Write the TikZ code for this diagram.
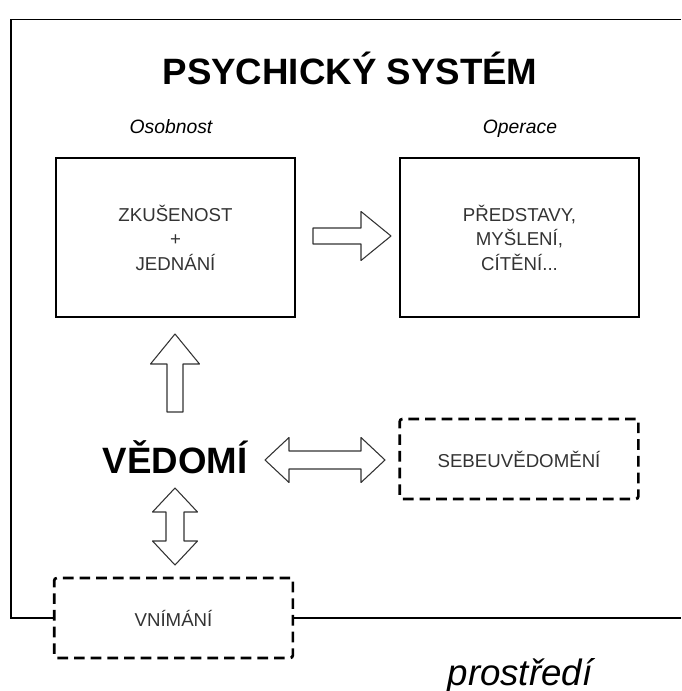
\documentclass[tikz,border=0pt]{standalone}
\usepackage{fontspec}
\setmainfont{Liberation Sans}
\definecolor{txtgray}{HTML}{333333}
\begin{document}
\begin{tikzpicture}[x=0.75pt,y=-0.75pt,
	box/.style={draw,line width=1pt,minimum width=179.25pt,minimum height=119.25pt,align=center,font=\fontsize{14}{18.4}\selectfont,text=txtgray},
	dbox/.style={draw,line width=2pt,dash pattern=on 8pt off 4.5pt,rounded corners=2pt,minimum width=179pt,minimum height=60pt,font=\fontsize{14}{17}\selectfont,text=txtgray},
	arrline/.style={draw=txtgray,fill=white,line width=0.8pt,line join=round},
	sarr/.pic={\path[arrline] (0,-8) -- (48,-8) -- (48,-24.5) -- (78,0) -- (48,24.5) -- (48,8) -- (0,8) -- cycle;},
	darr/.pic={\path[arrline] (0,0) -- (24,-22.5) -- (24,-9) -- (#1-24,-9) -- (#1-24,-22.5) -- (#1,0) -- (#1-24,22.5) -- (#1-24,9) -- (24,9) -- (24,22.5) -- cycle;},
	caption/.style={font=\fontsize{14.5}{17}\selectfont\itshape,anchor=base}]
	\useasboundingbox (0,0) rectangle (681,691);
	\node[font=\fontsize{27.5}{30}\selectfont\bfseries,anchor=base] (title) at (350,85) {PSYCHICKÝ SYSTÉM};
	\node[caption] (osob) at (171,134) {Osobnost};
	\node[caption] (oper) at (520,134) {Operace};
	\node[box] (zk) at (175.5,237.5) {ZKUŠENOST\\+\\JEDNÁNÍ};
	\node[box] (pr) at (519.5,237.5) {PŘEDSTAVY,\\MYŠLENÍ,\\CÍTĚNÍ...};
	\node[font=\fontsize{27.5}{30}\selectfont\bfseries,anchor=base] (ved) at (175,473) {VĚDOMÍ};
	\node[dbox] (sebe) at (519,459) {SEBEUVĚDOMĚNÍ};
	\node[dbox] (vn) at (173.5,618) {VNÍMÁNÍ};
	\node[font=\fontsize{27.5}{30}\selectfont\itshape,anchor=base] (env) at (520,685) {prostředí};
	\pic (a1) at (313,236) {sarr};
	\pic[rotate=90] (a2) at (175,412) {sarr};
	\pic (a3) at (265,460) {darr=120};
	\pic[rotate=-90] (a4) at (175,488) {darr=77};
	\coordinate (tl) at (11,19.5);
	\coordinate (tr) at (681,19.5);
	\coordinate (bl) at (11,618);
	\coordinate (br) at (681,618);
	\draw[line width=1.1pt] (vn.west) -- (bl) -- (tl) -- (tr);
	\draw[line width=1.1pt] (vn.east) -- (br);
\end{tikzpicture}
\end{document}
